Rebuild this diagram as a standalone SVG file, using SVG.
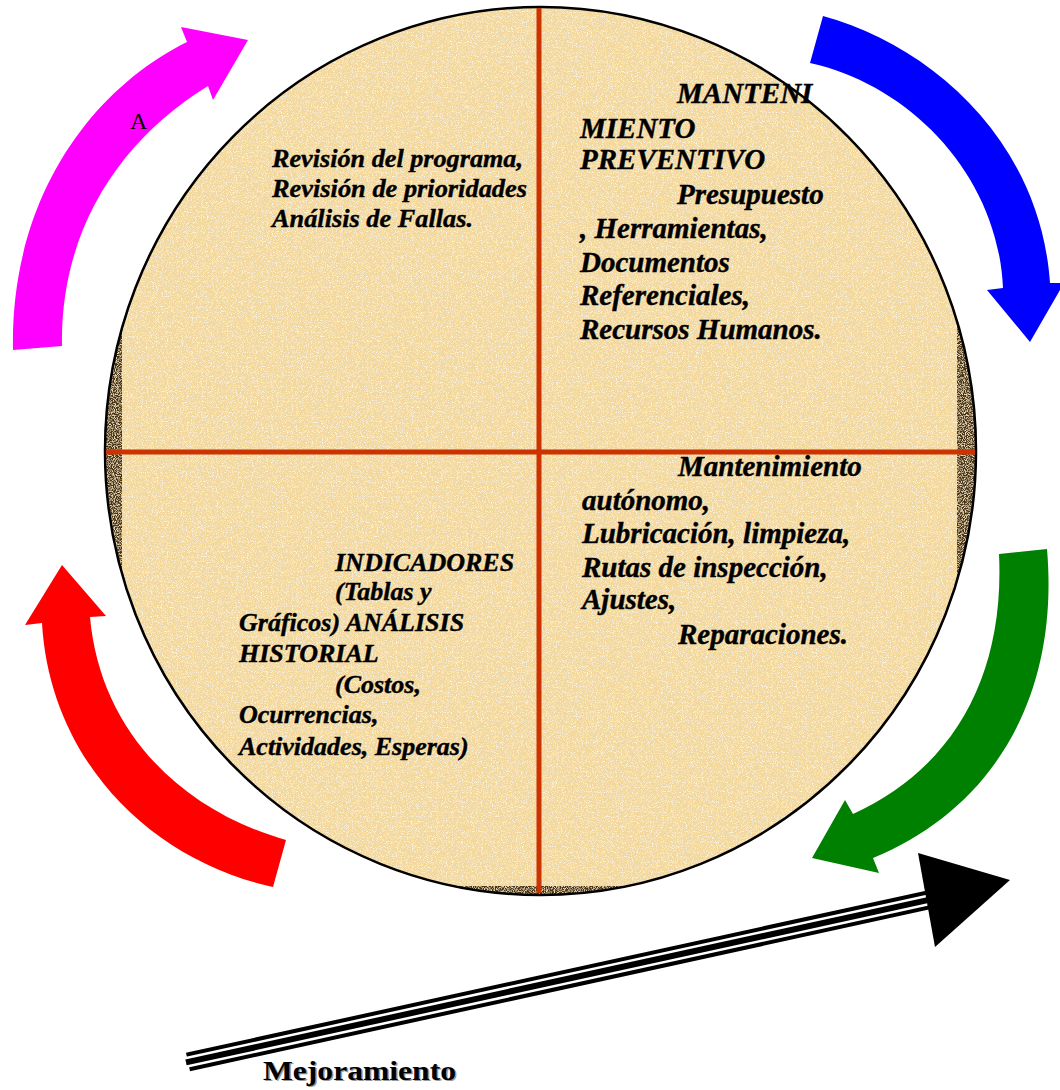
<svg xmlns="http://www.w3.org/2000/svg" width="1060" height="1090" viewBox="0 0 1060 1090">
<style>
.t{font-family:"Liberation Serif","Times New Roman",serif;font-weight:bold;font-style:italic;fill:#000;stroke:#000;stroke-width:0.4}
.s26{font-size:26px}.s29{font-size:29px}
.div{stroke:#CC3300;stroke-width:5;fill:none}
</style>
<defs>
<clipPath id="circ"><ellipse cx="540.5" cy="451" rx="435.5" ry="444"/></clipPath>
<filter id="tanGrain" x="0" y="0" width="100%" height="100%">
<feTurbulence type="fractalNoise" baseFrequency="1.1" numOctaves="2" seed="4" result="t"/>
<feColorMatrix in="t" type="matrix" values="0 0 0 0 0.88  0 0 0 0 0.68  0 0 0 0 0.36  3.2 0 0 0 -1.55" result="spk"/>
<feComposite in="spk" in2="SourceGraphic" operator="atop" result="a"/>
<feTurbulence type="fractalNoise" baseFrequency="1.2" numOctaves="1" seed="11" result="t2"/>
<feColorMatrix in="t2" type="matrix" values="0 0 0 0 1  0 0 0 0 0.97  0 0 0 0 0.9  3.2 0 0 0 -1.6" result="spk2"/>
<feComposite in="spk2" in2="a" operator="atop"/>
</filter>
<filter id="rimGrain" x="0" y="0" width="100%" height="100%">
<feTurbulence type="fractalNoise" baseFrequency="0.9" numOctaves="2" seed="9" result="t"/>
<feColorMatrix in="t" type="matrix" values="0 0 0 0 0.9  0 0 0 0 0.75  0 0 0 0 0.48  3.5 0 0 0 -1.55" result="spk"/>
<feComposite in="spk" in2="SourceGraphic" operator="atop"/>
</filter>
</defs>
<rect width="1060" height="1090" fill="#FFFFFF"/>

<g id="circle">
<ellipse cx="540.5" cy="451" rx="435.5" ry="444" fill="#4A3418" filter="url(#rimGrain)"/>
<g clip-path="url(#circ)">
<rect x="122" y="0" width="835" height="886" fill="#F3D89C" filter="url(#tanGrain)"/>
</g>
<ellipse cx="540.5" cy="451" rx="435.5" ry="444" fill="none" stroke="#000" stroke-width="2.5"/>
<line class="div" x1="539" y1="8" x2="539" y2="893"/>
<line class="div" x1="106" y1="452" x2="975" y2="452"/>
</g>

<g id="quad-top-left">
<text class="t s26" x="272" y="167" textLength="251" lengthAdjust="spacingAndGlyphs">Revisión del programa,</text>
<text class="t s26" x="272" y="197" textLength="255" lengthAdjust="spacingAndGlyphs">Revisión de prioridades</text>
<text class="t s26" x="272" y="227" textLength="201" lengthAdjust="spacingAndGlyphs">Análisis de Fallas.</text>
</g>

<g id="quad-top-right">
<text class="t s29" x="677" y="103">MANTENI</text>
<text class="t s29" x="580" y="138">MIENTO</text>
<text class="t s29" x="580" y="169">PREVENTIVO</text>
<text class="t s29" x="677" y="204">Presupuesto</text>
<text class="t s29" x="580" y="238">, Herramientas,</text>
<text class="t s29" x="580" y="272">Documentos</text>
<text class="t s29" x="580" y="305">Referenciales,</text>
<text class="t s29" x="580" y="339">Recursos Humanos.</text>
</g>

<g id="quad-bottom-right">
<text class="t s29" x="678" y="476">Mantenimiento</text>
<text class="t s29" x="582" y="510">autónomo,</text>
<text class="t s29" x="582" y="543">Lubricación, limpieza,</text>
<text class="t s29" x="582" y="577">Rutas de inspección,</text>
<text class="t s29" x="582" y="609">Ajustes,</text>
<text class="t s29" x="678" y="644">Reparaciones.</text>
</g>

<g id="quad-bottom-left">
<text class="t s26" x="335" y="571">INDICADORES</text>
<text class="t s26" x="335" y="600">(Tablas y</text>
<text class="t s26" x="239" y="631">Gráficos) ANÁLISIS</text>
<text class="t s26" x="239" y="662">HISTORIAL</text>
<text class="t s26" x="335" y="693">(Costos,</text>
<text class="t s26" x="239" y="723">Ocurrencias,</text>
<text class="t s26" x="239" y="755">Actividades, Esperas)</text>
</g>

<g id="connectors">
<g id="arrow-magenta">
<path fill="#FF00FF" d="M13,350 C10,200 90,90 187,42 L181,27 L248,40 L213,100 L208,86 C120,140 60,230 62,346 Z"/>
<text x="130" y="129" font-family="'Liberation Serif','Times New Roman',serif" font-size="24" fill="#000">A</text>
</g>
<path id="arrow-blue" fill="#0000FF" d="M823,16 C930,45 1040,140 1050,283 L1064,283 L1030,342 L987,290 L1003,288 C998,175 910,85 810,63 Z"/>
<path id="arrow-green" fill="#008000" d="M999,554 L1047,549 C1060,700 990,810 873,858 L879,873 L812,858 L845,800 L853,814 C950,770 1005,680 999,554 Z"/>
<path id="arrow-red" fill="#FF0000" d="M273,887 C150,860 50,760 42,623 L25,625 L62,565 L106,616 L90,617 C100,730 180,810 286,840 Z"/>
<g id="arrow-mejoramiento">
<line x1="188" y1="1062" x2="928" y2="900" stroke="#000" stroke-width="19"/>
<line x1="186" y1="1062.4" x2="930" y2="899.6" stroke="#FFF" stroke-width="11"/>
<line x1="186" y1="1062.4" x2="930" y2="899.6" stroke="#000" stroke-width="6"/>
<polygon points="918,853 1010,880 935,947" fill="#000"/>
</g>
</g>

<g id="label-mejoramiento">
<text x="264.5" y="1081" font-family="'Liberation Serif','Times New Roman',serif" font-weight="bold" font-size="27" fill="#999" textLength="193" lengthAdjust="spacingAndGlyphs">Mejoramiento</text>
<text x="263" y="1079.5" font-family="'Liberation Serif','Times New Roman',serif" font-weight="bold" font-size="27" fill="#000" textLength="193" lengthAdjust="spacingAndGlyphs">Mejoramiento</text>
</g>
</svg>
